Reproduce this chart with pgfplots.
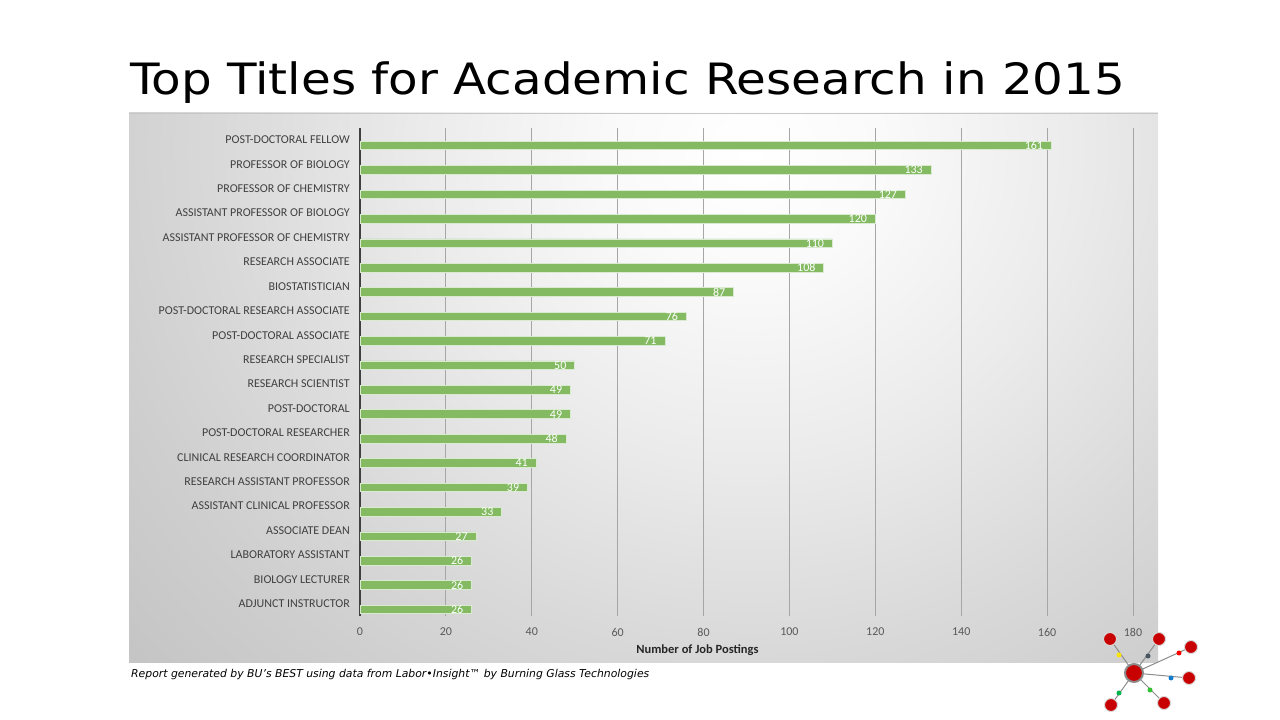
\documentclass[border=0pt]{standalone}
\usepackage{fontspec}
\setmainfont{Carlito}
\newfontfamily\titlefont{DejaVu Sans}
\newfontfamily\footfont{DejaVu Sans}
\usepackage{graphicx}
\usepackage{pgfplots}
\pgfplotsset{compat=1.18}
\usepackage{pgfplotstable}
\definecolor{barg}{RGB}{131,186,98}
\definecolor{lbl}{RGB}{64,64,64}
\definecolor{tck}{RGB}{89,89,89}
\definecolor{logored}{RGB}{200,0,0}
\pgfdeclareradialshading{bgshade}{\pgfpointorigin}{rgb(0bp)=(1,1,1); rgb(5bp)=(0.98,0.98,0.98); rgb(12.5bp)=(0.92,0.92,0.92); rgb(20bp)=(0.85,0.85,0.85); rgb(25bp)=(0.81,0.81,0.81); rgb(31bp)=(0.77,0.77,0.77); rgb(40bp)=(0.74,0.74,0.74); rgb(50bp)=(0.73,0.73,0.73); rgb(72bp)=(0.73,0.73,0.73)}
\pgfplotstableread{
x y
26 0
26 1
26 2
27 3
33 4
39 5
41 6
48 7
49 8
49 9
50 10
71 11
76 12
87 13
108 14
110 15
120 16
127 17
133 18
161 19
}\postings
\begin{document}
\begin{tikzpicture}
\useasboundingbox (0pt,0pt) rectangle (1280pt,720pt);
\begin{scope}[x=1pt,y=1pt]
\begin{scope}
\clip (129,57) rectangle (1158,607);
\shade[shading=bgshade] (83,-57) rectangle (1417,1197);
\end{scope}
\draw[black!22, line width=0.8pt] (129,607) -- (1158,607);
\node[anchor=base west, inner sep=0pt] at (130,625.5) {\resizebox{995pt}{32.8pt}{\titlefont Top Titles for Academic Research in 2015}};
\node[anchor=base west, inner sep=0pt] at (131,42) {\resizebox{518pt}{!}{\footfont\itshape Report generated by BU’s BEST using data from Labor•Insight™ by Burning Glass Technologies}};
\end{scope}
\begin{scope}
\clip (129pt,64pt) rectangle (1158pt,607pt);
\begin{axis}[
  at={(360pt,103.8pt)}, anchor=south west,
  scale only axis, width=773pt, height=488.6pt,
  xbar, bar width=8.6pt,
  xmin=0, xmax=180, ymin=-0.274, ymax=19.733,
  axis lines*=left, axis line style={-},
  x axis line style={draw=none},
  y axis line style={draw=lbl, line width=2pt},
  xtick={0,20,...,180}, ytick={0,...,19},
  yticklabels={ADJUNCT INSTRUCTOR, BIOLOGY LECTURER, LABORATORY ASSISTANT, ASSOCIATE DEAN, ASSISTANT CLINICAL PROFESSOR, RESEARCH ASSISTANT PROFESSOR, CLINICAL RESEARCH COORDINATOR, POST-DOCTORAL RESEARCHER, POST-DOCTORAL, RESEARCH SCIENTIST, RESEARCH SPECIALIST, POST-DOCTORAL ASSOCIATE, POST-DOCTORAL RESEARCH ASSOCIATE, BIOSTATISTICIAN, RESEARCH ASSOCIATE, ASSISTANT PROFESSOR OF CHEMISTRY, ASSISTANT PROFESSOR OF BIOLOGY, PROFESSOR OF CHEMISTRY, PROFESSOR OF BIOLOGY, POST-DOCTORAL FELLOW},
  major tick length=0pt,
  xmajorgrids, grid style={draw=black!35, line width=0.8pt},
  tick label style={font=\fontsize{12}{12}\selectfont},
  yticklabel style={color=lbl, inner sep=0pt, xshift=-10pt, yshift=5.7pt, anchor=east},
  xticklabel style={color=tck, inner sep=0pt, yshift=-11.8pt, anchor=north},
  /pgf/number format/assume math mode=true,
  xlabel={Number of Job Postings},
  xlabel style={at={(axis description cs:0.4366,0)}, anchor=base, yshift=-37.8pt, font=\bfseries\fontsize{12.5}{12.5}\selectfont, color=black!85, inner sep=0pt},
  point meta=x,
  nodes near coords,
  nodes near coords style={anchor=east, color=white, inner sep=0pt, xshift=-8pt, font=\fontsize{12}{12}\selectfont},
]
\addplot[fill=barg, draw=barg!30!white, line width=0.7pt] table[x=x,y=y] {\postings};
\end{axis}
\end{scope}
\begin{scope}[x=1pt,y=1pt]
\foreach \p in {(1110,81),(1159,81),(1191,73),(1189,42),(1111,15),(1164,17)}
  \draw[black!45, line width=1pt] (1134,47) -- \p;
\foreach \p in {(1110,81),(1159,81),(1191,73),(1189,42),(1111,15),(1164,17)}
  \fill[logored, draw=black!15, line width=1pt] \p circle (6.5);
\fill[logored, draw=black!45, line width=2pt] (1134,47) circle (9);
\fill[yellow!85!orange] (1119,65) circle (2.5);
\fill[black!70!cyan] (1148,64) circle (2.5);
\fill[red] (1179,67) circle (2.5);
\fill[cyan!60!blue] (1171,42) circle (2.5);
\fill[teal!60!green] (1119,27) circle (2.5);
\fill[green!70!black!80] (1150,30) circle (2.5);
\end{scope}
\end{tikzpicture}
\end{document}
